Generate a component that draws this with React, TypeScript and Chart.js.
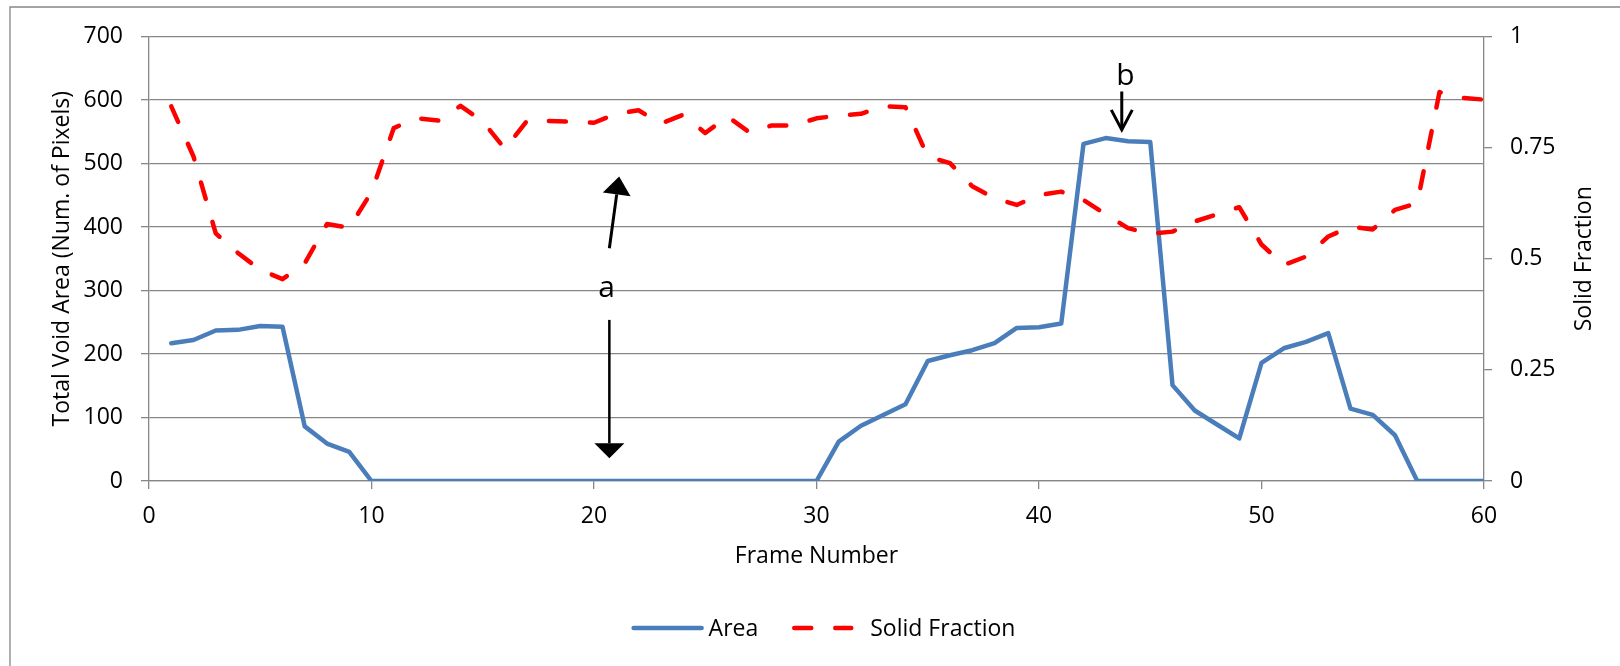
import React, { useEffect, useRef } from "react";
import { Chart, registerables } from "chart.js";

Chart.register(...registerables);

// ---------- data ----------
const frames = [
  1, 2, 3, 4, 5, 6, 7, 8, 9, 10, 11, 12, 13, 14, 15, 16, 17, 18, 19, 20,
  21, 22, 23, 24, 25, 26, 27, 28, 29, 30, 31, 32, 33, 34, 35, 36, 37, 38, 39, 40,
  41, 42, 43, 44, 45, 46, 47, 48, 49, 50, 51, 52, 53, 54, 55, 56, 57, 58, 59, 60,
];

const areaValues = [
  217, 222, 237, 238, 244, 243, 86, 59, 46, 0,
  0, 0, 0, 0, 0, 0, 0, 0, 0, 0,
  0, 0, 0, 0, 0, 0, 0, 0, 0, 0,
  62, 87, 104, 121, 189, 198, 206, 217, 241, 242,
  248, 531, 540, 535, 534, 151, 111, 89, 67, 186,
  209, 219, 233, 114, 104, 72, 0, 0, 0, 0,
];

const solidFractionValues = [
  0.843, 0.73, 0.557, 0.513, 0.475, 0.454, 0.49, 0.578, 0.57, 0.65,
  0.794, 0.816, 0.811, 0.844, 0.809, 0.747, 0.811, 0.81, 0.808, 0.806,
  0.826, 0.834, 0.804, 0.824, 0.783, 0.82, 0.784, 0.8, 0.8, 0.816,
  0.822, 0.826, 0.843, 0.841, 0.73, 0.715, 0.663, 0.636, 0.621, 0.643,
  0.651, 0.632, 0.6, 0.569, 0.556, 0.561, 0.584, 0.6, 0.616, 0.532,
  0.486, 0.505, 0.55, 0.572, 0.566, 0.61, 0.625, 0.875, 0.862, 0.858,
];

const xTicks = [0, 10, 20, 30, 40, 50, 60];
const leftTicks = [0, 100, 200, 300, 400, 500, 600, 700];
const rightTicks = [0, 0.25, 0.5, 0.75, 1];

const seriesNames = ["Area", "Solid Fraction"];
const xTitle = "Frame Number";
const leftTitle = "Total Void Area (Num. of Pixels)";
const rightTitle = "Solid Fraction";

// annotation labels / arrows in data space (frame, left-axis value)
const annotationLabels = [
  { text: "a", x: 20.57, y: 290.4 },
  { text: "b", x: 43.88, y: 623.9 },
];
const annotationArrows = [
  { x1: 20.69, y1: 366.6, x2: 21.13, y2: 479.4, head: "filled", len: 18, half: 14, width: 3 },
  { x1: 20.69, y1: 253.7, x2: 20.69, y2: 35.8, head: "filled", len: 15, half: 15, width: 2.5 },
  { x1: 43.72, y1: 613.4, x2: 43.72, y2: 553.0, head: "open", len: 20, half: 10.5, width: 3 },
];

// ---------- styles ----------
const FONT = "'Open Sans', sans-serif";
const GRID = "#878787";
const BLUE = "#4A7EBB";
const RED = "#FF0000";
const FS = 23;

const drawArrow = (ctx: CanvasRenderingContext2D, x1: number, y1: number, x2: number, y2: number, head: string, len: number, half: number, width: number) => {
  const dx = x2 - x1, dy = y2 - y1;
  const L = Math.hypot(dx, dy);
  const ux = dx / L, uy = dy / L;
  const nx = -uy, ny = ux;
  const bx = x2 - ux * len, by = y2 - uy * len;
  ctx.save();
  ctx.strokeStyle = "#000";
  ctx.fillStyle = "#000";
  ctx.lineWidth = width;
  ctx.lineCap = "butt";
  ctx.beginPath();
  ctx.moveTo(x1, y1);
  if (head === "filled") ctx.lineTo(bx, by);
  else ctx.lineTo(x2 - ux * 2, y2 - uy * 2);
  ctx.stroke();
  if (head === "filled") {
    ctx.beginPath();
    ctx.moveTo(x2, y2);
    ctx.lineTo(bx + nx * half, by + ny * half);
    ctx.lineTo(bx - nx * half, by - ny * half);
    ctx.closePath();
    ctx.fill();
  } else {
    ctx.lineJoin = "miter";
    ctx.beginPath();
    ctx.moveTo(bx + nx * half, by + ny * half);
    ctx.lineTo(x2, y2);
    ctx.lineTo(bx - nx * half, by - ny * half);
    ctx.stroke();
  }
  ctx.restore();
};

const decorPlugin = {
  id: "decor",
  beforeDraw(chart: any) {
    const ctx: CanvasRenderingContext2D = chart.ctx;
    ctx.save();
    ctx.strokeStyle = GRID;
    ctx.lineWidth = 1.3;
    ctx.beginPath();
    ctx.moveTo(10, 2000);
    ctx.lineTo(10, 7);
    ctx.lineTo(4000, 7);
    ctx.stroke();
    ctx.restore();
  },
  afterDraw(chart: any) {
    const ctx: CanvasRenderingContext2D = chart.ctx;
    const xs = chart.scales.x;
    const ys = chart.scales.y;
    const area = chart.chartArea;

    // annotations
    annotationArrows.forEach((a) => {
      drawArrow(ctx, xs.getPixelForValue(a.x1), ys.getPixelForValue(a.y1), xs.getPixelForValue(a.x2), ys.getPixelForValue(a.y2), a.head, a.len, a.half, a.width);
    });
    ctx.save();
    ctx.fillStyle = "#000";
    ctx.font = `30px ${FONT}`;
    ctx.textAlign = "center";
    ctx.textBaseline = "alphabetic";
    annotationLabels.forEach((l) => {
      ctx.fillText(l.text, xs.getPixelForValue(l.x), ys.getPixelForValue(l.y));
    });
    ctx.restore();

    // right axis title (reads bottom-to-top)
    ctx.save();
    ctx.fillStyle = "#000";
    ctx.font = `${FS}px ${FONT}`;
    ctx.textAlign = "center";
    ctx.textBaseline = "alphabetic";
    ctx.translate(area.right + 106.5, (area.top + area.bottom) / 2);
    ctx.rotate(-Math.PI / 2);
    ctx.fillText(rightTitle, 0, 0);
    ctx.restore();

    // legend
    ctx.save();
    ctx.font = `${FS}px ${FONT}`;
    ctx.textBaseline = "alphabetic";
    ctx.textAlign = "left";
    ctx.fillStyle = "#000";
    const w1 = ctx.measureText(seriesNames[0]).width;
    const w2 = ctx.measureText(seriesNames[1]).width;
    const lineW1 = 72, gap1 = 5, gapItems = 34, lineW2 = 61, gap2 = 17;
    const total = lineW1 + gap1 + w1 + gapItems + lineW2 + gap2 + w2;
    const cx = (area.left + area.right) / 2 + 7;
    let x = cx - total / 2;
    const ly = 628;
    const baseY = 636;
    ctx.lineCap = "round";
    ctx.strokeStyle = BLUE;
    ctx.lineWidth = 4.5;
    ctx.beginPath();
    ctx.moveTo(x + 2, ly);
    ctx.lineTo(x + lineW1 - 2, ly);
    ctx.stroke();
    x += lineW1 + gap1;
    ctx.fillText(seriesNames[0], x, baseY);
    x += w1 + gapItems;
    ctx.strokeStyle = RED;
    ctx.setLineDash([17, 24]);
    ctx.beginPath();
    ctx.moveTo(x + 2, ly);
    ctx.lineTo(x + lineW2 - 2, ly);
    ctx.stroke();
    ctx.setLineDash([]);
    x += lineW2 + gap2;
    ctx.fillText(seriesNames[1], x, baseY);
    ctx.restore();
  },
};

export default function App() {
  const canvasRef = useRef<HTMLCanvasElement | null>(null);

  useEffect(() => {
    if (!canvasRef.current) return;
    Chart.defaults.font.family = FONT;
    Chart.defaults.color = "#000";

    const tickFont = { size: FS, family: FONT };

    const chart = new Chart(canvasRef.current, {
      type: "line",
      data: {
        datasets: [
          {
            label: seriesNames[0],
            data: frames.map((f, i) => ({ x: f, y: areaValues[i] })),
            borderColor: BLUE,
            backgroundColor: BLUE,
            borderWidth: 4.5,
            pointRadius: 0,
            pointHoverRadius: 0,
            tension: 0,
            fill: false,
            borderJoinStyle: "round",
            borderCapStyle: "round",
            yAxisID: "y",
            order: 2,
          },
          {
            label: seriesNames[1],
            data: frames.map((f, i) => ({ x: f, y: solidFractionValues[i] })),
            borderColor: RED,
            backgroundColor: RED,
            borderWidth: 4.5,
            borderDash: [17, 24],
            borderCapStyle: "round",
            borderJoinStyle: "round",
            pointRadius: 0,
            pointHoverRadius: 0,
            tension: 0,
            fill: false,
            yAxisID: "y1",
            order: 1,
          },
        ],
      },
      options: {
        animation: false,
        responsive: false,
        maintainAspectRatio: false,
        devicePixelRatio: 1,
        layout: { padding: { top: 36.5, left: 0, right: 0, bottom: 0 } },
        plugins: {
          legend: { display: false },
          tooltip: { enabled: false },
          title: { display: false },
        },
        scales: {
          x: {
            type: "linear",
            position: "bottom",
            min: 0,
            max: 60,
            afterBuildTicks: (s: any) => {
              s.ticks = xTicks.map((v) => ({ value: v }));
            },
            afterFit: (s: any) => {
              s.height = 185;
            },
            ticks: {
              padding: 14,
              color: "#000",
              font: tickFont,
              maxRotation: 0,
              autoSkip: false,
              callback: (v: any) => String(v),
            },
            grid: {
              drawOnChartArea: false,
              drawTicks: true,
              tickLength: 8,
              color: GRID,
              lineWidth: 1.3,
            },
            border: { display: true, color: GRID, width: 1.3 },
            title: {
              display: true,
              text: xTitle,
              color: "#000",
              font: tickFont,
              padding: { top: 0, bottom: 96 },
            },
          },
          y: {
            type: "linear",
            position: "left",
            min: 0,
            max: 700,
            afterBuildTicks: (s: any) => {
              s.ticks = leftTicks.map((v) => ({ value: v }));
            },
            afterFit: (s: any) => {
              s.width = 149;
            },
            ticks: {
              padding: 18,
              color: "#000",
              font: tickFont,
              callback: (v: any) => String(v),
            },
            grid: {
              drawTicks: true,
              tickLength: 8,
              color: GRID,
              lineWidth: 1.3,
            },
            border: { display: true, color: GRID, width: 1.3 },
            title: {
              display: true,
              text: leftTitle,
              color: "#000",
              font: tickFont,
              padding: { top: 48.6, bottom: 0 },
            },
          },
          y1: {
            type: "linear",
            position: "right",
            min: 0,
            max: 1,
            afterBuildTicks: (s: any) => {
              s.ticks = rightTicks.map((v) => ({ value: v }));
            },
            afterFit: (s: any) => {
              s.width = 136;
            },
            ticks: {
              padding: 18,
              color: "#000",
              font: tickFont,
              callback: (v: any) => String(v),
            },
            grid: {
              drawOnChartArea: false,
              drawTicks: true,
              tickLength: 8,
              color: GRID,
              lineWidth: 1.3,
            },
            border: { display: true, color: GRID, width: 1.3 },
          },
        },
      } as any,
      plugins: [decorPlugin],
    });

    return () => {
      chart.destroy();
    };
  }, []);

  return (
    <div style={{ position: "fixed", left: 0, top: 0, width: 1620, height: 666, background: "#fff" }}>
      <canvas ref={canvasRef} width={1620} height={666} style={{ display: "block", width: 1620, height: 666 }} />
    </div>
  );
}
